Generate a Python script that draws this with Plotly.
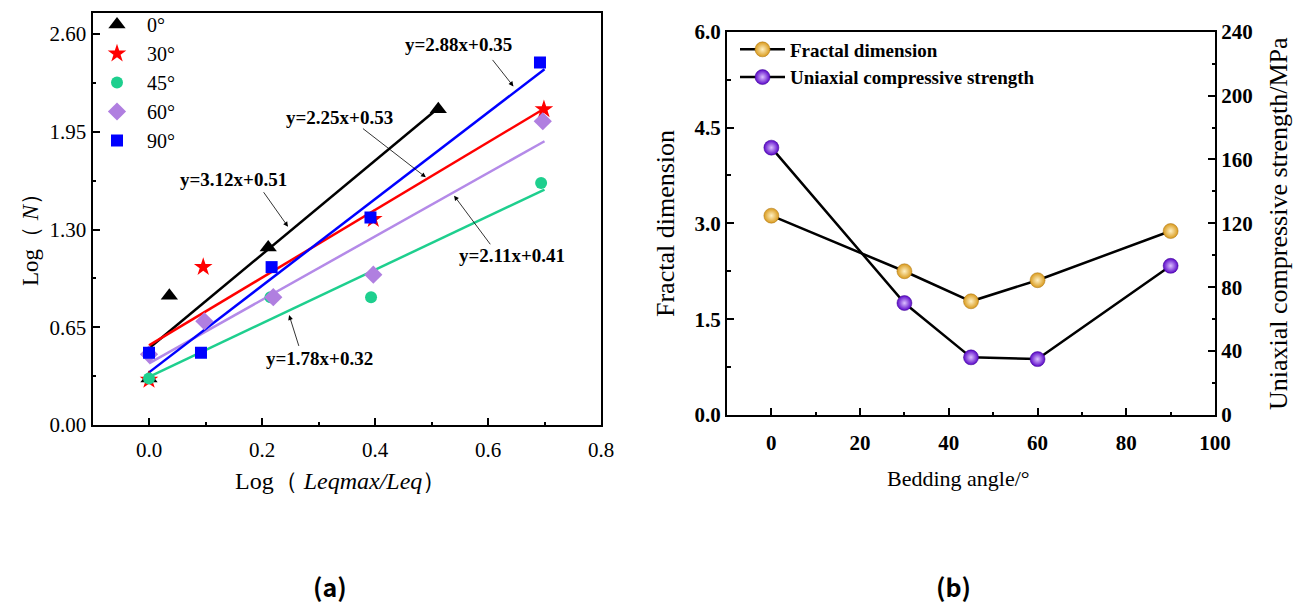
import plotly.graph_objects as go

# ---- (a) log(N) vs log(Leqmax/Leq) for each bedding angle ----
angle_labels = ["0°", "30°", "45°", "60°", "90°"]
x_0 = [0.0, 0.036, 0.211, 0.512]
y_0 = [0.31, 0.86, 1.18, 2.10]
x_30 = [0.0, 0.096, 0.397, 0.699]
y_30 = [0.30, 1.05, 1.37, 2.10]
x_45 = [0.0, 0.215, 0.393, 0.694]
y_45 = [0.31, 0.85, 0.85, 1.61]
x_60 = [0.0, 0.098, 0.220, 0.397, 0.697]
y_60 = [0.47, 0.69, 0.85, 1.00, 2.02]
x_90 = [0.0, 0.092, 0.217, 0.392, 0.692]
y_90 = [0.48, 0.48, 1.05, 1.38, 2.41]

# linear fits y = k x + b, drawn from x = 0 to fit_end
fit_k = [3.12, 2.25, 1.78, 2.11, 2.88]
fit_b = [0.51, 0.53, 0.32, 0.41, 0.35]
fit_end = [0.51, 0.70, 0.70, 0.70, 0.70]

# ---- (b) fractal dimension and UCS vs bedding angle ----
bedding_angle = [0, 30, 45, 60, 90]
fractal_dim = [3.12, 2.25, 1.78, 2.11, 2.88]
ucs_mpa = [167.4, 70.1, 36.1, 35.0, 93.4]

SERIF = "Liberation Serif, Times New Roman, serif"
W, H = 1306, 606

def px_x(p):
    return p / W

def px_y(p):
    return 1 - p / H

fig = go.Figure()

series_x = [x_0, x_30, x_45, x_60, x_90]
series_y = [y_0, y_30, y_45, y_60, y_90]
symbols = ["triangle-up", "star", "circle", "diamond", "square"]
marker_colors = ["#000000", "#ff0000", "#1ecf8e", "#b07fe0", "#0000ff"]
line_colors = ["#000000", "#ff0000", "#1ecf8e", "#b48ae8", "#0000ff"]
sizes = [15, 14, 12, 14, 12]

# fit lines first so that markers sit on top
for k, b, xe, col in zip(fit_k, fit_b, fit_end, line_colors):
    fig.add_trace(go.Scatter(
        x=[0.0, xe], y=[b, k * xe + b], mode="lines",
        line=dict(color=col, width=2.5), showlegend=False,
        xaxis="x", yaxis="y", hoverinfo="skip"))

for name, xs, ys, sym, col, sz in zip(angle_labels, series_x, series_y,
                                      symbols, marker_colors, sizes):
    fig.add_trace(go.Scatter(
        x=xs, y=ys, mode="markers", name=name,
        marker=dict(symbol=sym, color=col, size=sz, line=dict(width=0)),
        xaxis="x", yaxis="y", legend="legend"))

# ---- (b) traces ----
fig.add_trace(go.Scatter(
    x=bedding_angle, y=fractal_dim, mode="lines+markers",
    name="Fractal dimension",
    line=dict(color="black", width=2.5),
    marker=dict(size=15, color="#d99a1c",
                gradient=dict(type="radial", color="#fff1c4"),
                line=dict(width=0.5, color="#a87010")),
    xaxis="x2", yaxis="y2", legend="legend2"))
fig.add_trace(go.Scatter(
    x=bedding_angle, y=ucs_mpa, mode="lines+markers",
    name="Uniaxial compressive strength",
    line=dict(color="black", width=2.5),
    marker=dict(size=15, color="#5a06c8",
                gradient=dict(type="radial", color="#dcc0ff"),
                line=dict(width=0.5, color="#3a0090")),
    xaxis="x2", yaxis="y3", legend="legend2"))

axis_common = dict(
    showgrid=False, zeroline=False, showline=True, linecolor="black",
    linewidth=2, ticks="inside", ticklen=7, tickwidth=2, tickcolor="black",
    automargin=False,
)

left_dom_x = [px_x(92.5), px_x(601)]
left_dom_y = [px_y(425), px_y(13)]
right_dom_x = [px_x(727), px_x(1215)]
right_dom_y = [px_y(415), px_y(31.7)]

minor_l = dict(ticks="inside", ticklen=3.5, tickwidth=2, tickcolor="black")

fig.update_layout(
    width=W, height=H,
    margin=dict(l=0, r=0, t=0, b=0),
    paper_bgcolor="white", plot_bgcolor="white",
    xaxis=dict(**axis_common, domain=left_dom_x, range=[-0.1, 0.8],
               tick0=0, dtick=0.2, tickformat=".1f", mirror=True,
               minor=dict(**minor_l, dtick=0.1), ticklabelstandoff=5,
               tickfont=dict(family=SERIF, size=21, color="black"),
               anchor="y"),
    yaxis=dict(**axis_common, domain=left_dom_y, range=[0, 2.74],
               tick0=0, dtick=0.65, tickformat=".2f", mirror=True,
               minor=dict(**minor_l, dtick=0.325),
               tickfont=dict(family=SERIF, size=21, color="black"),
               anchor="x"),
    xaxis2=dict(**axis_common, domain=right_dom_x, range=[-10, 100],
                tick0=0, dtick=20, mirror=True,
                minor=dict(**minor_l, dtick=10), ticklabelstandoff=8,
                tickfont=dict(family=SERIF, size=21, color="black", weight="bold"),
                anchor="y2"),
    yaxis2=dict(**axis_common, domain=right_dom_y, range=[0, 6],
                tick0=0, dtick=1.5, tickformat=".1f",
                minor=dict(**minor_l, dtick=0.75),
                tickfont=dict(family=SERIF, size=21, color="black", weight="bold"),
                anchor="x2"),
    yaxis3=dict(**axis_common, domain=right_dom_y, range=[0, 240],
                tick0=0, dtick=40, side="right", overlaying="y2",
                minor=dict(**minor_l, dtick=20),
                tickfont=dict(family=SERIF, size=21, color="black", weight="bold"),
                anchor="x2"),
    legend=dict(x=px_x(87), y=px_y(5), xanchor="left", yanchor="top",
                bgcolor="rgba(0,0,0,0)", itemwidth=50, tracegroupgap=0,
                font=dict(family=SERIF, size=20, color="black")),
    legend2=dict(x=px_x(735), y=px_y(30.5), xanchor="left", yanchor="top",
                 bgcolor="rgba(0,0,0,0)", itemwidth=45,
                 font=dict(family=SERIF, size=19, color="black", weight="bold")),
)

# fit-equation labels with leader arrows (text centre, arrow tail, arrow head)
eq_labels = [
    ("y=2.88x+0.35", 0.547, 2.533, 0.606, 2.438, 0.645, 2.252),
    ("y=2.25x+0.53", 0.338, 2.046, 0.376, 1.979, 0.490, 1.647),
    ("y=3.12x+0.51", 0.150, 1.636, 0.201, 1.558, 0.246, 1.319),
    ("y=2.11x+0.41", 0.643, 1.126, 0.606, 1.192, 0.540, 1.525),
    ("y=1.78x+0.32", 0.301, 0.439, 0.266, 0.516, 0.248, 0.731),
]
for txt, tx, ty, ax_, ay_, hx, hy in eq_labels:
    fig.add_annotation(x=tx, y=ty, xref="x", yref="y", text=txt,
                       showarrow=False,
                       font=dict(family=SERIF, size=19, color="black",
                                 weight="bold"))
    fig.add_annotation(x=hx, y=hy, ax=ax_, ay=ay_, xref="x", yref="y",
                       axref="x", ayref="y", text="", showarrow=True,
                       arrowhead=2, arrowsize=1.2, arrowwidth=0.8,
                       arrowcolor="black")

# axis titles and panel tags
titles = [
    ("Log（ <i>Leqmax/Leq</i>）", 340, 481, 0, 24),
    ("Log（ <i>N</i>）", 30, 234, -90, 23),
    ("Bedding angle/°", 958, 478, 0, 22),
    ("Fractal dimension", 665, 224, -90, 26),
    ("Uniaxial compressive strength/MPa", 1278, 224, -90, 26),
]
for txt, x, y, ang, sz in titles:
    fig.add_annotation(x=px_x(x), y=px_y(y), xref="paper", yref="paper",
                       text=txt, showarrow=False, textangle=ang,
                       xanchor="center", yanchor="middle",
                       font=dict(family=SERIF, size=sz, color="black"))

for txt, x in [("(a)", 311), ("(b)", 973)]:
    fig.add_annotation(x=px_x(x), y=px_y(606), xref="paper", yref="paper",
                       text=txt, showarrow=False,
                       font=dict(family="Noto Sans CJK SC", size=25,
                                 color="black", weight="bold"))

fig.write_html("out.html")
